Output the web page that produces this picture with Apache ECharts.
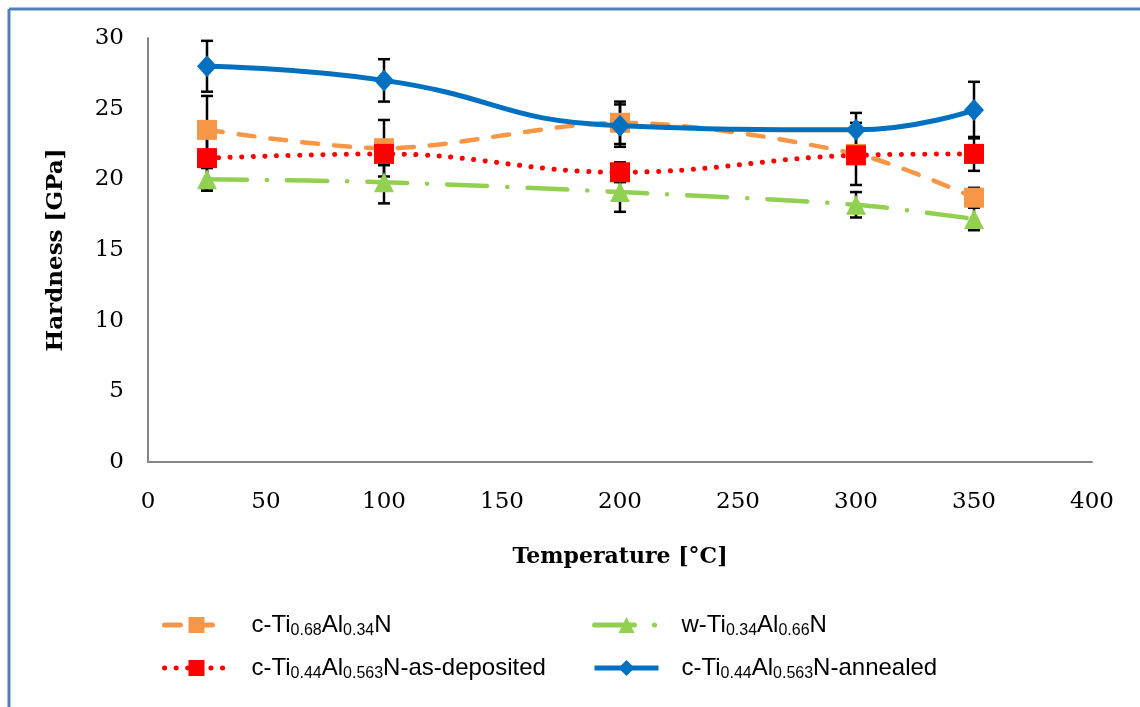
<!DOCTYPE html>
<html>
<head>
<meta charset="utf-8">
<script src="https://cdn.jsdelivr.net/npm/echarts@6/dist/echarts.min.js"></script>
<style>
  html, body { margin: 0; padding: 0; background: #fff; }
  #chart { width: 1140px; height: 707px; }
</style>
</head>
<body>
<div id="chart"></div>
<script>
// temperatures [°C]
const temps = [25, 100, 200, 300, 350]

// hardness [GPa] and error bars
const cTi068 = [23.5, 22.2, 24.0, 21.8, 18.7]
const cTi068Err = [2.4, 2.0, 1.5, 2.2, 0.7]
const wTi034 = [20.0, 19.8, 19.1, 18.2, 17.2]
const wTi034Err = [0.8, 1.5, 1.4, 0.9, 0.8]
const asDeposited = [21.5, 21.8, 20.5, 21.7, 21.8]
const asDepositedErr = [2.3, 0.8, 0.7, 0.6, 1.2]
const annealed = [28.0, 27.0, 23.8, 23.5, 24.9]
const annealedErr = [1.8, 1.5, 1.5, 1.2, 2.0]

const names = [
  'c-Ti0.68Al0.34N',
  'w-Ti0.34Al0.66N',
  'c-Ti0.44Al0.563N-as-deposited',
  'c-Ti0.44Al0.563N-annealed'
]

// legend labels with subscripts
const legendLabel = {
  'c-Ti0.68Al0.34N': '{n|c-Ti}{s|0.68}{n|Al}{s|0.34}{n|N}',
  'w-Ti0.34Al0.66N': '{n|w-Ti}{s|0.34}{n|Al}{s|0.66}{n|N}',
  'c-Ti0.44Al0.563N-as-deposited': '{n|c-Ti}{s|0.44}{n|Al}{s|0.563}{n|N-as-deposited}',
  'c-Ti0.44Al0.563N-annealed': '{n|c-Ti}{s|0.44}{n|Al}{s|0.563}{n|N-annealed}'
}

const toPairs = vals => temps.map((t, i) => [t, vals[i]])
const toErr = (vals, err) => temps.map((t, i) => [t, vals[i] - err[i], vals[i] + err[i]])

function renderErr(params, api) {
  const x = api.value(0)
  const lo = api.coord([x, api.value(1)])
  const hi = api.coord([x, api.value(2)])
  const cap = 6
  const style = { stroke: '#000', lineWidth: 2.5 }
  return {
    type: 'group',
    children: [
      { type: 'line', shape: { x1: lo[0], y1: lo[1], x2: hi[0], y2: hi[1] }, style },
      { type: 'line', shape: { x1: lo[0] - cap, y1: lo[1], x2: lo[0] + cap, y2: lo[1] }, style },
      { type: 'line', shape: { x1: hi[0] - cap, y1: hi[1], x2: hi[0] + cap, y2: hi[1] }, style }
    ]
  }
}

const errSeries = (vals, err) => ({
  type: 'custom',
  renderItem: renderErr,
  data: toErr(vals, err),
  z: 1,
  silent: true
})

const legendBase = {
  orient: 'horizontal',
  itemWidth: 64,
  itemHeight: 20,
  formatter: n => legendLabel[n],
  lineStyle: { width: 5 },
  textStyle: {
    padding: [0, 0, 0, 18],
    rich: {
      n: { fontFamily: 'Liberation Sans', fontSize: 24, color: '#000' },
      s: { fontFamily: 'Liberation Sans', fontSize: 16, color: '#000', padding: [12, 0, 0, 0] }
    }
  }
}

const frameStyle = { stroke: '#4F81BD', lineWidth: 3 }

const option = {
  backgroundColor: '#fff',
  animation: false,
  graphic: [
    { type: 'line', shape: { x1: 9, y1: 9, x2: 1140, y2: 9 }, style: frameStyle, silent: true },
    { type: 'line', shape: { x1: 9, y1: 9, x2: 9, y2: 707 }, style: frameStyle, silent: true }
  ],
  legend: [
    Object.assign({}, legendBase, { data: [names[0]], left: 157, top: 608 }),
    Object.assign({}, legendBase, { data: [names[1]], left: 587, top: 608 }),
    Object.assign({}, legendBase, { data: [names[2]], left: 157, top: 651 }),
    Object.assign({}, legendBase, { data: [names[3]], left: 587, top: 651 })
  ],
  grid: {
    left: 148,
    right: 48,
    top: 38,
    bottom: 245
  },
  xAxis: {
    type: 'value',
    min: 0,
    max: 400,
    interval: 50,
    name: 'Temperature [°C]',
    nameLocation: 'middle',
    nameGap: 84,
    nameTextStyle: { fontFamily: 'DejaVu Serif', fontWeight: 'bold', fontSize: 22, color: '#000' },
    axisLine: { show: true, lineStyle: { color: '#868686', width: 2 } },
    axisTick: { show: false },
    splitLine: { show: false },
    axisLabel: { fontFamily: 'DejaVu Serif', fontSize: 23, color: '#000', margin: 29 }
  },
  yAxis: {
    type: 'value',
    min: 0,
    max: 30,
    interval: 5,
    name: 'Hardness [GPa]',
    nameLocation: 'middle',
    nameGap: 80,
    nameRotate: 90,
    nameTextStyle: { fontFamily: 'DejaVu Serif', fontWeight: 'bold', fontSize: 23, color: '#000' },
    axisLine: { show: true, lineStyle: { color: '#868686', width: 2 } },
    axisTick: { show: false },
    splitLine: { show: false },
    axisLabel: { fontFamily: 'DejaVu Serif', fontSize: 23, color: '#000', margin: 24 }
  },
  series: [
    errSeries(cTi068, cTi068Err),
    errSeries(wTi034, wTi034Err),
    errSeries(asDeposited, asDepositedErr),
    errSeries(annealed, annealedErr),
    {
      name: names[0],
      type: 'line',
      smooth: 0.3,
      data: toPairs(cTi068),
      symbol: 'rect',
      symbolSize: 20,
      color: '#F79646',
      lineStyle: { width: 4.5, type: [16, 16], cap: 'round' },
      z: 3
    },
    {
      name: names[1],
      type: 'line',
      smooth: 0.3,
      data: toPairs(wTi034),
      symbol: 'triangle',
      symbolSize: 20,
      color: '#92D050',
      lineStyle: { width: 4.5, type: [40, 20, 0.1, 20], cap: 'round' },
      z: 3
    },
    {
      name: names[2],
      type: 'line',
      smooth: 0.4,
      data: toPairs(asDeposited),
      symbol: 'rect',
      symbolSize: 20,
      color: '#FF0000',
      lineStyle: { width: 5, type: [0.1, 11.5], cap: 'round' },
      z: 4
    },
    {
      name: names[3],
      type: 'line',
      smooth: 0.5,
      data: toPairs(annealed),
      symbol: 'diamond',
      symbolSize: [20, 22],
      color: '#0070C0',
      lineStyle: { width: 5 },
      z: 5
    }
  ]
}

const chart = echarts.init(document.getElementById('chart'))
chart.setOption(option)
</script>
</body>
</html>
